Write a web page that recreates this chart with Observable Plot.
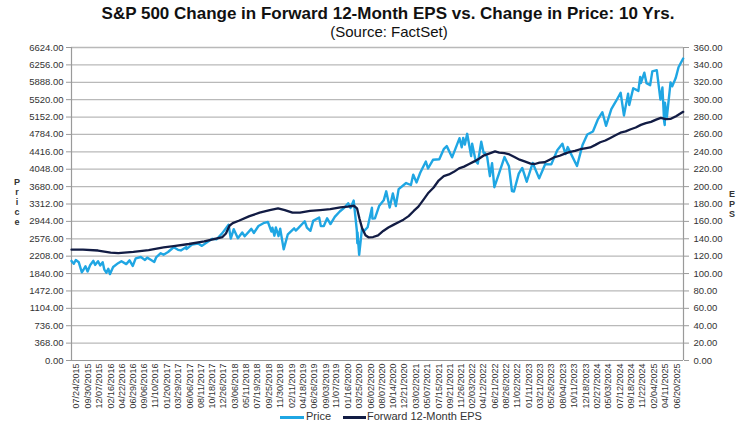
<!DOCTYPE html>
<html>
<head>
<meta charset="utf-8">
<script src="https://cdn.jsdelivr.net/npm/d3@7"></script>
<script src="https://cdn.jsdelivr.net/npm/@observablehq/plot@0.6"></script>
<style>
  html, body { margin: 0; padding: 0; background: #fff; }
  #wrap { position: relative; width: 740px; height: 425px; font-family: "Liberation Sans", Arial, sans-serif; color: #333; overflow: hidden; }
  #title { position: absolute; left: 0; width: 776px; top: 4px; text-align: center; font-weight: bold; font-size: 17px; color: #111; }
  #subtitle { position: absolute; left: 0; width: 778px; top: 23px; text-align: center; font-size: 15px; color: #111; }
  #chart { position: absolute; left: 0; top: 40px; }
  .vlab { position: absolute; font-weight: bold; font-size: 9px; line-height: 10px; text-align: center; width: 10px; color: #333; }
  #legend { position: absolute; top: 410px; left: 0; width: 740px; font-size: 11px; color: #333; }
  .sw { position: absolute; height: 3px; top: 6px; }
  .lt { position: absolute; top: 0; }
</style>
</head>
<body>
<div id="wrap">
  <div id="title">S&amp;P 500 Change in Forward 12-Month EPS vs. Change in Price: 10 Yrs.</div>
  <div id="subtitle">(Source: FactSet)</div>
  <div id="chart"></div>
  <div class="vlab" style="left:12px; top:177px;">P<br>r<br>i<br>c<br>e</div>
  <div class="vlab" style="left:727px; top:189px;">E<br>P<br>S</div>
  <div id="legend">
    <div class="sw" style="left:280px; width:24px; background:#1fa6e3;"></div>
    <div class="lt" style="left:306px;">Price</div>
    <div class="sw" style="left:343px; width:23px; background:#121c44;"></div>
    <div class="lt" style="left:367px;">Forward 12-Month EPS</div>
  </div>
</div>
<script>
// ---- Data ----
const priceDates = ["2015-06-24","2015-07-08","2015-07-20","2015-08-07","2015-08-25","2015-09-04","2015-09-16","2015-09-29","2015-10-15","2015-11-03","2015-11-13","2015-12-01","2015-12-14","2015-12-29",
"2016-01-08","2016-01-20","2016-02-01","2016-02-11","2016-03-01","2016-03-31","2016-04-20","2016-05-19","2016-06-08","2016-06-27","2016-07-15","2016-08-15","2016-09-09","2016-09-22","2016-10-11","2016-11-04","2016-11-15","2016-12-13","2016-12-30",
"2017-01-26","2017-03-01","2017-03-27","2017-04-13","2017-05-16","2017-05-17","2017-06-19","2017-07-26","2017-08-18","2017-09-20","2017-10-20","2017-11-15","2017-12-18",
"2018-01-26","2018-02-08","2018-02-26","2018-03-23","2018-04-18","2018-05-03","2018-06-12","2018-06-27","2018-07-25","2018-08-29","2018-09-20","2018-10-11","2018-10-17","2018-10-29","2018-11-07","2018-11-23","2018-12-03","2018-12-24",
"2019-01-18","2019-02-25","2019-03-07","2019-03-22","2019-04-30","2019-05-13","2019-06-03","2019-06-20","2019-07-26","2019-08-05","2019-08-23","2019-09-12","2019-10-02","2019-10-28","2019-11-27","2019-12-27",
"2020-01-17","2020-01-31","2020-02-19","2020-03-09","2020-03-12","2020-03-13","2020-03-23","2020-04-09","2020-04-21","2020-05-13","2020-06-08","2020-06-11","2020-06-26","2020-07-22","2020-08-18","2020-09-02","2020-09-23","2020-10-12","2020-10-30","2020-11-16","2020-12-31",
"2021-01-29","2021-02-12","2021-03-04","2021-03-26","2021-04-29","2021-05-12","2021-06-11","2021-07-19","2021-08-16","2021-09-02","2021-10-04","2021-11-18","2021-12-01","2021-12-10","2021-12-20",
"2022-01-03","2022-01-27","2022-02-02","2022-02-23","2022-03-08","2022-03-29","2022-04-12","2022-04-21","2022-05-04","2022-05-20","2022-06-02","2022-06-16","2022-07-08","2022-08-16","2022-09-12","2022-09-30","2022-10-12","2022-11-10","2022-12-01","2022-12-28",
"2023-02-02","2023-03-13","2023-04-18","2023-05-25","2023-06-30","2023-07-31","2023-08-18","2023-09-01","2023-10-27","2023-11-30","2023-12-28",
"2024-01-31","2024-02-29","2024-03-28","2024-04-19","2024-05-21","2024-06-18","2024-07-16","2024-08-05","2024-08-30","2024-09-06","2024-09-30","2024-10-31","2024-11-11","2024-11-15","2024-12-06","2024-12-19",
"2025-01-10","2025-01-23","2025-02-19","2025-03-13","2025-03-25","2025-04-04","2025-04-08","2025-04-09","2025-04-21","2025-05-13","2025-05-23","2025-06-13","2025-06-30","2025-07-28"];
const priceValues = [2108,2046,2128,2078,1868,1921,1995,1884,2023,2109,2023,2102,2012,2078,
1922,1859,1940,1829,1978,2060,2102,2040,2119,2001,2162,2190,2128,2177,2137,2085,2181,2271,2239,
2297,2396,2342,2329,2400,2357,2453,2477,2426,2508,2575,2565,2690,
2873,2581,2780,2588,2708,2630,2786,2699,2846,2914,2931,2728,2809,2641,2814,2633,2790,2351,
2671,2796,2749,2801,2946,2812,2744,2954,3026,2844,2847,3010,2887,3040,3154,3241,
3330,3226,3386,2747,2481,2711,2237,2790,2737,2820,3232,3002,3009,3276,3390,3580,3237,3534,3270,3627,3756,
3714,3934,3768,3974,4211,4063,4247,4258,4479,4537,4300,4705,4513,4712,4568,
4797,4326,4589,4225,4170,4631,4397,4393,4300,3901,4177,3667,3899,4305,4110,3586,3577,3956,4076,3783,
4180,3855,4155,4151,4450,4589,4370,4516,4117,4568,4783,
4846,5096,5254,4967,5321,5487,5667,5186,5648,5408,5762,5705,6001,5870,6090,5867,
5827,6119,6144,5522,5777,5074,4983,5457,5158,5886,5802,5977,6205,6390];

const epsDates = ["2015-06-24","2015-09-01","2015-12-01","2016-02-15","2016-04-01","2016-07-01","2016-10-01","2016-12-30","2017-03-01","2017-06-01","2017-09-01","2017-12-20",
"2018-01-10","2018-01-31","2018-02-20","2018-04-01","2018-06-01","2018-08-01","2018-10-01","2018-11-20","2018-12-31","2019-02-15","2019-04-01","2019-06-01","2019-08-01","2019-10-01","2019-12-01",
"2020-01-15","2020-02-20","2020-03-10","2020-03-25","2020-04-10","2020-04-30","2020-05-20","2020-06-15","2020-07-15","2020-08-15","2020-09-15","2020-10-15","2020-11-15","2020-12-15",
"2021-01-15","2021-02-15","2021-03-15","2021-04-15","2021-05-15","2021-06-15","2021-07-15","2021-08-15","2021-09-15","2021-10-15","2021-11-15","2021-12-15",
"2022-01-15","2022-02-15","2022-03-15","2022-04-15","2022-05-15","2022-06-20","2022-07-15","2022-08-15","2022-09-15","2022-10-15","2022-11-15","2022-12-15",
"2023-01-20","2023-02-15","2023-03-15","2023-04-15","2023-05-15","2023-06-15","2023-07-15","2023-08-15","2023-09-15","2023-10-15","2023-11-15","2023-12-15",
"2024-01-15","2024-02-15","2024-03-15","2024-04-15","2024-05-15","2024-06-15","2024-07-15","2024-08-15","2024-09-15","2024-10-15","2024-11-15","2024-12-15",
"2025-01-15","2025-02-15","2025-03-15","2025-04-15","2025-05-15","2025-06-15","2025-07-28"];
const epsValues = [127.5,127.5,126.5,124,123.5,125,127,130,131.5,134,137,142,
146,155,158,161,166,170,173,175,173,170,170,172,173,174,176,
177,178,175,163,152,144,141.5,142,144,149,153,156,159,162,
166,172,177,185,193,199,207,212,214,217,221,223,
226,229,232,236,238,240.5,239,238.5,237,234,231,229,
226.5,226,227.5,228,231,234,235.5,238,240,241,243,244,
245,248,251,253,256,259,262,263.5,266,268,271,273,
274.5,277,279,277.5,278,281,286];

const xLabels = ["07/24/2015","09/30/2015","12/07/2015","02/16/2016","04/22/2016","06/29/2016","09/06/2016","11/10/2016","01/20/2017","03/29/2017","06/06/2017","08/11/2017","10/18/2017","12/26/2017",
"03/06/2018","05/11/2018","07/19/2018","09/25/2018","11/30/2018","02/11/2019","04/18/2019","06/26/2019","09/03/2019","11/07/2019","01/16/2020","03/25/2020","06/02/2020","08/07/2020","10/14/2020","12/21/2020",
"03/02/2021","05/07/2021","07/15/2021","09/21/2021","11/26/2021","02/03/2022","04/12/2022","06/21/2022","08/26/2022","11/02/2022","01/11/2023","03/21/2023","05/26/2023","08/04/2023","10/11/2023","12/18/2023",
"02/27/2024","05/03/2024","07/12/2024","09/18/2024","11/22/2024","02/04/2025","04/11/2025","06/20/2025"];

const priceTicks = [0,368,736,1104,1472,1840,2208,2576,2944,3312,3680,4048,4416,4784,5152,5520,5888,6256,6624];
const epsTicks = [0,20,40,60,80,100,120,140,160,180,200,220,240,260,280,300,320,340,360];

// ---- Build ----
const parseISO = d3.utcParse("%Y-%m-%d");
const parseUS = d3.utcParse("%m/%d/%Y");
const fmtUS = d3.utcFormat("%m/%d/%Y");
const priceData = priceDates.map((d, i) => ({date: parseISO(d), value: priceValues[i]}));
const epsData = epsDates.map((d, i) => ({date: parseISO(d), value: epsValues[i]}));
const labelDates = xLabels.map(parseUS);
const ratio = 6624 / 360;
const xDomain = [parseISO("2015-06-24"), parseISO("2025-07-30")];

const chart = Plot.plot({
  width: 740,
  height: 370,
  marginTop: 7,
  marginBottom: 50,
  marginLeft: 71,
  marginRight: 57,
  style: {fontFamily: "Liberation Sans, Arial, sans-serif", fontSize: "9.5px", color: "#333", background: "#fff"},
  x: {type: "utc", domain: xDomain},
  y: {domain: [0, 6624]},
  marks: [
    Plot.gridY(priceTicks.slice(1), {stroke: "#b9b9b9", strokeOpacity: 1, strokeWidth: 1.3}),
    Plot.ruleY([0], {stroke: "#9a9a9a", strokeWidth: 1.2}),
    Plot.ruleX(xDomain, {stroke: "#9a9a9a", strokeWidth: 1.2}),
    Plot.axisY(priceTicks, {anchor: "left", tickSize: 5, tickPadding: 3, stroke: "#9a9a9a", fill: "#333",
      tickFormat: d => d.toFixed(2), label: null}),
    Plot.axisY(epsTicks.map(d => d * ratio), {anchor: "right", tickSize: 5, tickPadding: 5, stroke: "#9a9a9a", fill: "#333",
      tickFormat: d => (d / ratio).toFixed(2), label: null}),
    Plot.axisX(labelDates, {tickRotate: -90, tickSize: 0, tickPadding: 3, fontSize: 9, fill: "#333",
      tickFormat: fmtUS, label: null}),
    Plot.lineY(priceData, {x: "date", y: "value", stroke: "#1fa6e3", strokeWidth: 2.4}),
    Plot.lineY(epsData, {x: "date", y: d => d.value * ratio, stroke: "#121c44", strokeWidth: 2.3})
  ]
});
document.getElementById("chart").appendChild(chart);
</script>
</body>
</html>
